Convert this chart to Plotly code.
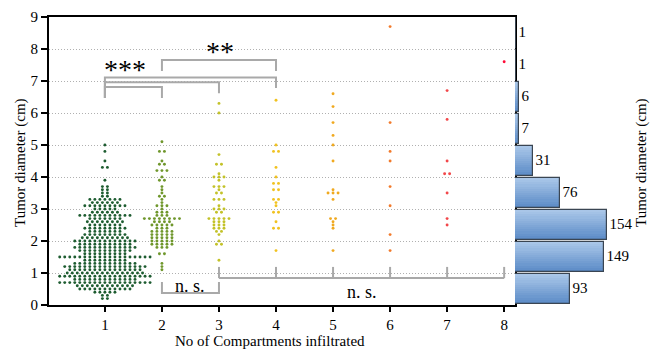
import numpy as np
import plotly.graph_objects as go

# ---------------- data ----------------
groups = [1, 2, 3, 4, 5, 6, 7, 8]
group_colors = ['#1d5c30', '#6f972c', '#c3c229', '#f1c21f', '#f0a91f', '#f27a2b', '#f2474a', '#ff0a36']

g1_levels = [5.0, 4.8, 4.5, 4.3, 3.9, 3.7, 3.6, 3.5, 3.4, 3.3, 3.2, 3.1, 3.0,
             2.9, 2.8, 2.7, 2.6, 2.5, 2.4, 2.3, 2.2, 2.1, 2.0,
             1.9, 1.8, 1.7, 1.6, 1.5, 1.4, 1.3, 1.2, 1.1, 1.0,
             0.9, 0.8, 0.7, 0.6, 0.5, 0.4, 0.3, 0.2]
g1_counts = [1, 1, 1, 2, 1, 2, 2, 2, 2, 7, 6, 9, 5,
             6, 11, 7, 8, 7, 9, 7, 9, 10, 13,
             11, 13, 11, 9, 19, 9, 13, 17, 15, 16,
             19, 13, 19, 12, 11, 5, 2, 2]

g2_levels = [5.1, 4.8, 4.5, 4.4, 4.2, 4.0, 3.9, 3.7, 3.6, 3.5, 3.4, 3.3, 3.2, 3.1, 3.0,
             2.9, 2.8, 2.7, 2.6, 2.5, 2.4, 2.3, 2.2, 2.1, 2.0, 1.9, 1.8, 1.6, 1.3, 1.2, 1.1]
g2_counts = [1, 2, 1, 2, 3, 1, 2, 1, 1, 1, 2, 1, 1, 3, 1,
             3, 3, 8, 4, 5, 3, 5, 5, 5, 5, 5, 3, 2, 1, 1, 1]

g3_levels = [6.3, 6.0, 4.7, 4.4, 4.1, 4.0, 3.9, 3.7, 3.6, 3.5, 3.3, 3.1, 3.0, 2.9,
             2.7, 2.6, 2.5, 2.4, 2.3, 2.2, 2.0, 1.9, 1.4]
g3_counts = [1, 1, 1, 2, 1, 3, 1, 3, 1, 2, 3, 1, 3, 2,
             5, 3, 3, 3, 2, 1, 1, 2, 1]

g4_levels = [6.4, 5.0, 4.8, 4.3, 4.0, 3.8, 3.6, 3.3, 3.2, 3.1, 2.9, 2.6, 2.4, 1.7]
g4_counts = [1, 1, 2, 1, 1, 2, 2, 2, 1, 1, 2, 1, 2, 1]

g5_levels = [6.6, 6.2, 5.7, 5.3, 5.0, 4.5, 3.6, 3.5, 3.3, 2.7, 2.6, 2.5, 2.4, 1.7]
g5_counts = [1, 1, 1, 1, 1, 1, 1, 3, 1, 2, 1, 1, 1, 1]

g6_levels = [8.7, 5.7, 4.8, 4.5, 3.7, 3.1, 2.2, 1.7]
g6_counts = [1, 1, 1, 1, 1, 1, 1, 1]

g7_levels = [6.7, 5.8, 4.5, 4.1, 3.5, 2.7, 2.5]
g7_counts = [1, 1, 1, 2, 1, 1, 1]

g8_levels = [7.6]
g8_counts = [1]

group_levels = [g1_levels, g2_levels, g3_levels, g4_levels, g5_levels, g6_levels, g7_levels, g8_levels]
group_counts = [g1_counts, g2_counts, g3_counts, g4_counts, g5_counts, g6_counts, g7_counts, g8_counts]

hist_edges = [0, 1, 2, 3, 4, 5, 6, 7, 8, 9]
hist_counts = [93, 149, 154, 76, 31, 7, 6, 1, 1]

x_tick_labels = ['1', '2', '3', '4', '5', '6', '7', '8']

# ---------------- figure ----------------
W, H = 651, 350
SERIF = 'Liberation Serif, Times New Roman, serif'
main_x = [49 / W, 515 / W]
main_y = [1 - 305 / H, 1 - 17 / H]
hist_x = [515 / W, 640 / W]

fig = go.Figure()

dx = 0.088  # horizontal spacing of swarm dots (data units)
for g, col, lv, ct in zip(groups, group_colors, group_levels, group_counts):
    xs, ys = [], []
    for v, n in zip(lv, ct):
        for i in range(n):
            xs.append(g + (i - (n - 1) / 2) * dx)
            ys.append(v)
    fig.add_trace(go.Scatter(x=xs, y=ys, mode='markers',
                             marker=dict(color=col, size=2.9, symbol='circle', line=dict(width=0)),
                             xaxis='x', yaxis='y', showlegend=False, hoverinfo='skip'))

# histogram with vertical gradient (slices)
centers = [(a + b) / 2 for a, b in zip(hist_edges[:-1], hist_edges[1:])]
bar_w = 0.94
nsl = 14
top_rgb = np.array([172, 201, 234])
bot_rgb = np.array([88, 137, 198])
for k in range(nsl):
    t = (k + 0.5) / nsl  # 0 bottom, 1 top
    c = bot_rgb + (top_rgb - bot_rgb) * t
    fig.add_trace(go.Bar(x=hist_counts, y=centers, orientation='h',
                         offset=-bar_w / 2 + k * bar_w / nsl, width=bar_w / nsl + 0.004,
                         marker=dict(color='rgb(%d,%d,%d)' % tuple(c.astype(int)), line=dict(width=0)),
                         xaxis='x2', yaxis='y2', showlegend=False, hoverinfo='skip'))
fig.add_trace(go.Bar(x=hist_counts, y=centers, orientation='h', width=bar_w,
                     marker=dict(color='rgba(0,0,0,0)', line=dict(color='#3a4552', width=1.2)),
                     text=[str(v) for v in hist_counts], textposition='outside',
                     textfont=dict(family=SERIF, size=15, color='black'),
                     constraintext='none', cliponaxis=False,
                     xaxis='x2', yaxis='y2', showlegend=False, hoverinfo='skip'))

# significance brackets
gray = '#a9a9a9'
brackets_top = [  # x1, x2, y_top, left_leg_bottom, right_leg_bottom
    (1, 2, 6.81, 6.47, 6.47),
    (1, 3, 6.96, 6.47, 6.62),
    (1, 4, 7.11, 6.47, 6.78),
    (2, 4, 7.66, 7.31, 7.31),
]
shapes = []
for x1, x2, yt, yl, yr in brackets_top:
    shapes.append(dict(type='path', xref='x', yref='y',
                       path=f'M {x1},{yl} L {x1},{yt} L {x2},{yt} L {x2},{yr}',
                       line=dict(color=gray, width=2)))
# bottom n.s. brackets
shapes.append(dict(type='path', xref='x', yref='y',
                   path='M 2,0.72 L 2,0.375 L 3,0.375 L 3,0.72', line=dict(color=gray, width=2)))
shapes.append(dict(type='line', xref='x', yref='y', x0=3, x1=8, y0=0.84, y1=0.84,
                   line=dict(color=gray, width=2)))
for xv in [3, 4, 5, 6, 7, 8]:
    shapes.append(dict(type='line', xref='x', yref='y', x0=xv, x1=xv, y0=0.84, y1=1.19,
                       line=dict(color=gray, width=2)))

annotations = [
    dict(text='***', x=1.36, y=7.36, xref='x', yref='y', showarrow=False,
         font=dict(family=SERIF, size=28, color='black'), xanchor='center', yanchor='middle'),
    dict(text='**', x=3.02, y=7.92, xref='x', yref='y', showarrow=False,
         font=dict(family=SERIF, size=28, color='black'), xanchor='center', yanchor='middle'),
    dict(text='n. s.', x=2.5, y=0.6, xref='x', yref='y', showarrow=False,
         font=dict(family=SERIF, size=18, color='black'), xanchor='center', yanchor='middle'),
    dict(text='n. s.', x=5.5, y=0.42, xref='x', yref='y', showarrow=False,
         font=dict(family=SERIF, size=18, color='black'), xanchor='center', yanchor='middle'),
    dict(text='Tumor diameter (cm)', x=20 / W, y=1 - 163 / H, xref='paper', yref='paper',
         showarrow=False, textangle=-90, xanchor='center', yanchor='middle',
         font=dict(family=SERIF, size=15, color='black')),
    dict(text='Tumor diameter (cm)', x=641 / W, y=1 - 163 / H, xref='paper', yref='paper',
         showarrow=False, textangle=-90, xanchor='center', yanchor='middle',
         font=dict(family=SERIF, size=15, color='black')),
    dict(text='No of Compartments infiltrated', x=270 / W, y=1 - 341 / H, xref='paper', yref='paper',
         showarrow=False, xanchor='center', yanchor='middle',
         font=dict(family=SERIF, size=15, color='black')),
]

fig.update_layout(
    width=W, height=H,
    margin=dict(l=0, r=0, t=0, b=0),
    paper_bgcolor='white', plot_bgcolor='white',
    barmode='overlay', bargap=0,
    showlegend=False,
    xaxis=dict(domain=main_x, range=[0.02, 8.19], tickvals=groups, ticktext=x_tick_labels,
               ticks='outside', ticklen=5, tickwidth=2, tickcolor='black',
               showline=True, linecolor='black', linewidth=2, mirror=True,
               showgrid=False, zeroline=False, anchor='y', automargin=False,
               tickfont=dict(family=SERIF, size=15, color='black')),
    yaxis=dict(domain=main_y, range=[0, 9], tickvals=list(range(10)),
               ticks='outside', ticklen=6, tickwidth=2, tickcolor='black',
               showline=True, linecolor='black', linewidth=2, mirror=True,
               showgrid=True, gridcolor='#b0b0b0', gridwidth=1, griddash='1px,2px',
               zeroline=False, anchor='x', automargin=False,
               tickfont=dict(family=SERIF, size=15, color='black')),
    xaxis2=dict(domain=hist_x, range=[0, 210], visible=False, anchor='y2'),
    yaxis2=dict(domain=main_y, range=[0, 9], visible=False, anchor='x2'),
    shapes=shapes,
    annotations=annotations,
)

fig.write_html('out.html')
